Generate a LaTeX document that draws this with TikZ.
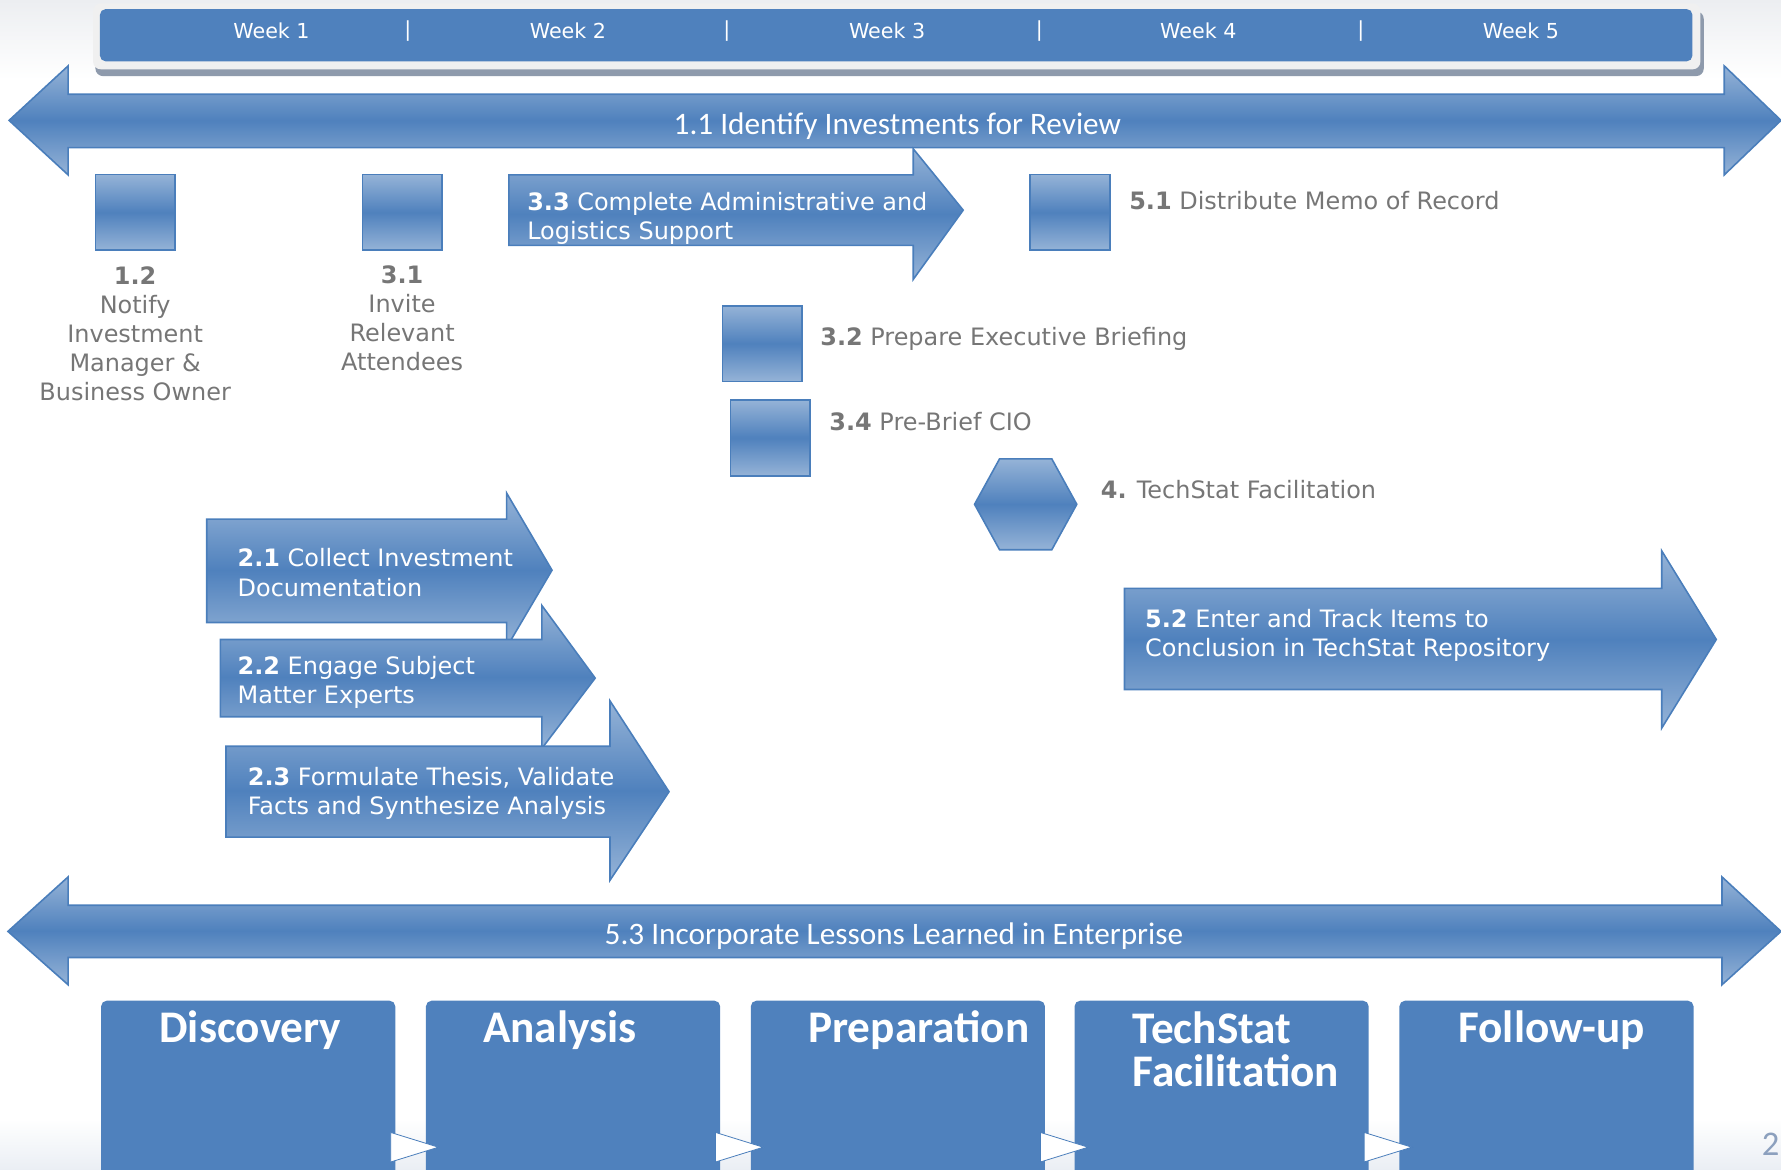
\documentclass[tikz,border=0pt]{standalone}
\usepackage{fontspec}
\setmainfont{DejaVu Sans}
\newfontfamily\calib{Carlito}
\definecolor{midblue}{RGB}{79,129,189}
\definecolor{liteblue}{RGB}{149,179,215}
\definecolor{edgeblue}{RGB}{74,126,187}
\definecolor{txtgrey}{RGB}{118,118,118}
\definecolor{barrim}{RGB}{240,240,240}
\definecolor{barshadow}{RGB}{142,154,172}
\definecolor{bgtop}{RGB}{236,238,241}
\definecolor{bgbot}{RGB}{234,238,244}
\definecolor{pagegrey}{RGB}{140,160,190}
\begin{document}
\begin{tikzpicture}[x=0.03cm, y=-0.03cm,
    stepshade/.style={draw=edgeblue, line width=1.2pt, top color=liteblue, bottom color=liteblue, middle color=midblue},
    sqbox/.style={stepshade, minimum width=2.1cm, minimum height=2.0cm, inner sep=0pt},
    inarrow/.style={text=white, align=left, anchor=west, inner sep=0pt, font=\fontsize{18}{22}\selectfont},
    greylbl/.style={text=txtgrey, align=left, anchor=west, inner sep=0pt, font=\fontsize{18}{22}\selectfont},
    undersq/.style={text=txtgrey, align=center, inner sep=0pt, font=\fontsize{18}{21.7}\selectfont},
    weeklbl/.style={text=white, inner sep=0pt, font=\fontsize{15.5}{18}\selectfont},
    bandlbl/.style={text=white, inner sep=0pt, font=\calib\fontsize{23.5}{28}\selectfont},
    phase/.style={fill=midblue, rounded corners=0.15cm},
    phaselbl/.style={text=white, inner sep=0pt, font=\calib\bfseries\fontsize{34}{32}\selectfont},
    chevron/.style={fill=white, draw=edgeblue, line width=0.6pt}]
    \useasboundingbox (0,0) rectangle (1568,1030);
    \clip (0,0) rectangle (1568,1030);
    % Background
    \shade[top color=bgtop, bottom color=white] (0,0) rectangle (1568,70);
    \shade[top color=white, bottom color=bgbot] (0,985) rectangle (1568,1030);
    % Week bar
    \fill[barshadow, rounded corners=0.2cm] (84,10) rectangle (1500,67);
    \fill[barrim, rounded corners=0.2cm] (82,3) rectangle (1497,61);
    \fill[midblue, rounded corners=0.15cm] (88,8) rectangle (1490,54);
    \node[weeklbl] (wk1) at (239,27) {Week 1};
    \node[weeklbl] (sep1) at (359,27) {|};
    \node[weeklbl] (wk2) at (500,27) {Week 2};
    \node[weeklbl] (sep2) at (640,27) {|};
    \node[weeklbl] (wk3) at (781,27) {Week 3};
    \node[weeklbl] (sep3) at (915,27) {|};
    \node[weeklbl] (wk4) at (1055,27) {Week 4};
    \node[weeklbl] (sep4) at (1198,27) {|};
    \node[weeklbl] (wk5) at (1339,27) {Week 5};
    % 1.1 band
    \path[stepshade] (8,106) -- (60,58) -- (60,83) -- (1518,83) -- (1518,58) -- (1568,106)
        -- (1518,154) -- (1518,130) -- (60,130) -- (60,154) -- cycle;
    \node[bandlbl] (t11) at (790,111) {1.1 Identify Investments for Review};
    % Squares
    \node[sqbox] (sq12) at (119,187) {};
    \node[undersq] (t12) at (119,294) {\textbf{1.2}\\Notify\\Investment\\Manager \&\\Business Owner};
    \node[sqbox] (sq31) at (354,187) {};
    \node[undersq] (t31) at (354,280) {\textbf{3.1}\\Invite\\Relevant\\Attendees};
    \node[sqbox] (sq51) at (942,187) {};
    \node[greylbl] (t51) at (994,177) {\textbf{5.1} Distribute Memo of Record};
    \node[sqbox] (sq32) at (671,302.5) {};
    \node[greylbl] (t32) at (722,298) {\textbf{3.2} Prepare Executive Briefing};
    \node[sqbox] (sq34) at (678,385.5) {};
    \node[greylbl] (t34) at (730,371) {\textbf{3.4} Pre-Brief CIO};
    % 3.3 arrow
    \path[stepshade] (448,154) -- (804,154) -- (804,131) -- (848,185) -- (804,246) -- (804,216) -- (448,216) -- cycle;
    \node[inarrow] (t33) at (464,192.5) {\textbf{3.3} Complete Administrative and\\Logistics Support};
    % Hexagon
    \path[stepshade] (880,404) -- (926,404) -- (948,444) -- (926,484) -- (880,484) -- (858,444) -- cycle;
    \coordinate (hex4) at (903,444);
    \node[greylbl] (t4) at (969,431) {\textbf{4.} TechStat Facilitation};
    % Analysis arrows
    \path[stepshade] (182,457) -- (446,457) -- (446,434) -- (486,502) -- (446,570) -- (446,548) -- (182,548) -- cycle;
    \node[inarrow] (t21) at (209,504) {\textbf{2.1} Collect Investment\\Documentation};
    \path[stepshade] (194,563) -- (477,563) -- (477,533) -- (524,597) -- (477,659) -- (477,631) -- (194,631) -- cycle;
    \node[inarrow] (t22) at (209,601) {\textbf{2.2} Engage Subject\\Matter Experts};
    \path[stepshade] (199,657) -- (537,657) -- (537,617) -- (589,697) -- (537,775) -- (537,737) -- (199,737) -- cycle;
    \node[inarrow] (t23) at (218,698.5) {\textbf{2.3} Formulate Thesis, Validate\\Facts and Synthesize Analysis};
    % 5.2 arrow
    \path[stepshade] (990,518) -- (1463,518) -- (1463,485) -- (1511,563) -- (1463,641) -- (1463,607) -- (990,607) -- cycle;
    \node[inarrow] (t52) at (1008,559.5) {\textbf{5.2} Enter and Track Items to\\Conclusion in TechStat Repository};
    % 5.3 band
    \path[stepshade] (7,820) -- (60,772) -- (60,797) -- (1516,797) -- (1516,772) -- (1568,820)
        -- (1516,867) -- (1516,843) -- (60,843) -- (60,867) -- cycle;
    \node[bandlbl] (t53) at (787,824) {5.3 Incorporate Lessons Learned in Enterprise};
    % Phases
    \fill[phase] (89,881) rectangle (348,1070);
    \fill[phase] (375,881) rectangle (634,1070);
    \fill[phase] (661,881) rectangle (920,1070);
    \fill[phase] (946,881) rectangle (1205,1070);
    \fill[phase] (1232,881) rectangle (1491,1070);
    \node[phaselbl, anchor=base] (ph1) at (220.5,917.5) {Discovery};
    \node[phaselbl, anchor=base] (ph2) at (493,917.5) {Analysis};
    \node[phaselbl, anchor=base] (ph3) at (809,917.5) {Preparation};
    \node[phaselbl, anchor=west, align=left] (ph4) at (997,924) {TechStat\\Facilitation};
    \node[phaselbl, anchor=base] (ph5) at (1366,917.5) {Follow-up};
    \path[chevron] (344,997) -- (386,1010) -- (344,1023) -- cycle;
    \path[chevron] (630,997) -- (672,1010) -- (630,1023) -- cycle;
    \path[chevron] (916,997) -- (958,1010) -- (916,1023) -- cycle;
    \path[chevron] (1201,997) -- (1243,1010) -- (1201,1023) -- cycle;
    % Page number
    \node[text=pagegrey, anchor=west, inner sep=0pt, font=\calib\fontsize{26}{30}\selectfont] (pg) at (1551,1007) {2};
\end{tikzpicture}
\end{document}
